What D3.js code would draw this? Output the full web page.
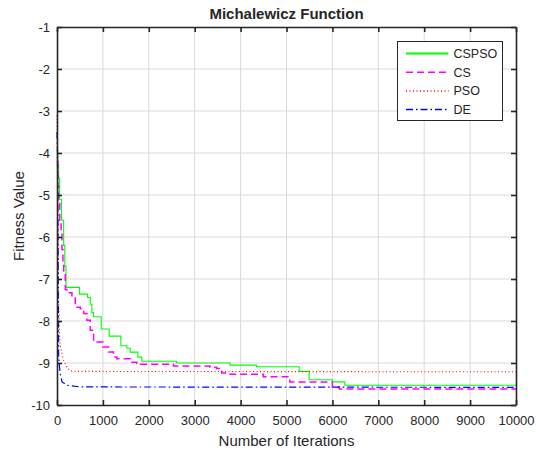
<!DOCTYPE html>
<html>
<head>
<meta charset="utf-8">
<script src="https://cdn.jsdelivr.net/npm/d3@7"></script>
<style>
  body { margin: 0; background: #fff; }
  svg text { font-family: "Liberation Sans", Arial, sans-serif; fill: #262626; }
</style>
</head>
<body>
<div id="chart"></div>
<script>
// convergence curves: iteration, best fitness
var cspsoIter = [0, 15, 36, 58, 100, 145, 170, 196, 492, 666, 725, 760, 797, 964, 1137, 1391, 1522, 1594, 1761, 1848, 2609, 3768, 4348, 5275, 5492, 6000, 6270, 10000];
var cspsoVal  = [-3.9, -4.3, -4.6, -5.1, -5.6, -6.2, -6.7, -7.2, -7.36, -7.44, -7.6, -7.8, -7.9, -8.19, -8.36, -8.59, -8.65, -8.74, -8.86, -8.96, -9.0, -9.05, -9.09, -9.2, -9.4, -9.45, -9.53, -9.53];

var csIter = [0, 20, 36, 60, 90, 109, 130, 145, 181, 217, 326, 398, 507, 580, 652, 725, 797, 1000, 1123, 1232, 1304, 1594, 1739, 1812, 2536, 3333, 3478, 3587, 3768, 4493, 5072, 6000, 6150, 10000];
var csVal  = [-4.2, -4.8, -5.2, -5.6, -5.9, -6.3, -6.6, -6.9, -7.25, -7.33, -7.43, -7.67, -7.71, -7.82, -7.98, -8.22, -8.5, -8.62, -8.74, -8.86, -8.9, -8.98, -9.01, -9.03, -9.07, -9.1, -9.13, -9.24, -9.27, -9.33, -9.45, -9.57, -9.62, -9.62];

var psoIter = [0, 10, 20, 30, 36, 45, 58, 72, 109, 145, 217, 290, 435, 10000];
var psoVal  = [-3.1, -4.5, -5.8, -6.7, -7.4, -7.9, -8.4, -8.6, -8.78, -8.94, -9.1, -9.19, -9.2, -9.21];

var deIter = [0, 10, 20, 30, 36, 55, 72, 109, 217, 507, 10000];
var deVal  = [-3.5, -4.0, -5.5, -7.5, -8.8, -9.1, -9.25, -9.45, -9.53, -9.57, -9.58];

var xTicks = [0, 1000, 2000, 3000, 4000, 5000, 6000, 7000, 8000, 9000, 10000];
var yTicks = [-10, -9, -8, -7, -6, -5, -4, -3, -2, -1];

var W = 536, H = 455;
var mLeft = 57, mRight = 516, mTop = 27, mBottom = 405;

var svg = d3.select("#chart").append("svg")
  .attr("width", W).attr("height", H);

var x = d3.scaleLinear().domain([0, 10000]).range([mLeft, mRight]);
var y = d3.scaleLinear().domain([-10, -1]).range([mBottom, mTop]);

// grid
svg.append("g").selectAll("line")
  .data(xTicks.slice(1, -1)).enter().append("line")
  .attr("x1", d => x(d)).attr("x2", d => x(d))
  .attr("y1", mTop).attr("y2", mBottom)
  .attr("stroke", "#d9d9d9").attr("stroke-width", 1);
svg.append("g").selectAll("line")
  .data(yTicks.slice(1, -1)).enter().append("line")
  .attr("y1", d => y(d)).attr("y2", d => y(d))
  .attr("x1", mLeft).attr("x2", mRight)
  .attr("stroke", "#d9d9d9").attr("stroke-width", 1);

// series
var series = [
  {name: "CSPSO", it: cspsoIter, v: cspsoVal, color: "#00ff00", dash: null, w: 1.1, curve: d3.curveStepAfter},
  {name: "CS", it: csIter, v: csVal, color: "#ff00ff", dash: "7,4", w: 1.5, curve: d3.curveStepAfter},
  {name: "PSO", it: psoIter, v: psoVal, color: "#ff0000", dash: "1,2.5", w: 1.1, curve: d3.curveLinear},
  {name: "DE", it: deIter, v: deVal, color: "#0000ff", dash: "7,3,1.5,3", w: 1.2, curve: d3.curveLinear}
];

var plot = svg.append("g");
series.forEach(function(s) {
  var pts = s.it.map((d, i) => [d, s.v[i]]);
  var line = d3.line().x(d => x(d[0])).y(d => y(d[1])).curve(s.curve);
  plot.append("path")
    .attr("d", line(pts))
    .attr("fill", "none")
    .attr("stroke", s.color)
    .attr("stroke-width", s.w)
    .attr("stroke-dasharray", s.dash);
});

// axes (plain hyphen for negatives, no thousands separator)
var fmt = d => String(d);
var axB = d3.axisBottom(x).tickValues(xTicks).tickSizeInner(-5).tickSizeOuter(0).tickPadding(11).tickFormat(fmt);
var axL = d3.axisLeft(y).tickValues(yTicks).tickSizeInner(-5).tickSizeOuter(0).tickPadding(7).tickFormat(fmt);
var axT = d3.axisTop(x).tickValues(xTicks).tickSizeInner(-5).tickSizeOuter(0).tickFormat("");
var axR = d3.axisRight(y).tickValues(yTicks).tickSizeInner(-5).tickSizeOuter(0).tickFormat("");

function style(g) {
  g.select(".domain").attr("stroke", "#262626").attr("stroke-width", 1.6);
  g.selectAll(".tick line").attr("stroke", "#262626").attr("stroke-width", 1.6);
  g.selectAll(".tick text").attr("font-size", "13px").attr("fill", "#262626")
    .style("font-family", "'Liberation Sans', Arial, sans-serif");
}

svg.append("g").attr("transform", "translate(0," + mBottom + ")").call(axB).call(style);
svg.append("g").attr("transform", "translate(" + mLeft + ",0)").call(axL).call(style);
svg.append("g").attr("transform", "translate(0," + mTop + ")").call(axT).call(style);
svg.append("g").attr("transform", "translate(" + mRight + ",0)").call(axR).call(style);

// title and labels
svg.append("text").attr("x", (mLeft + mRight) / 2).attr("y", 18.5)
  .attr("text-anchor", "middle").attr("font-size", "15px").attr("font-weight", "bold")
  .attr("fill", "#000").text("Michalewicz Function");
svg.append("text").attr("x", (mLeft + mRight) / 2).attr("y", 446)
  .attr("text-anchor", "middle").attr("font-size", "15px").text("Number of Iterations");
svg.append("text")
  .attr("transform", "translate(24," + ((mTop + mBottom) / 2) + ") rotate(-90)")
  .attr("text-anchor", "middle").attr("font-size", "15px").text("Fitness Value");

// legend
var lg = svg.append("g").attr("transform", "translate(397.5,41.5)");
lg.append("rect").attr("width", 105).attr("height", 79)
  .attr("fill", "#fff").attr("stroke", "#262626").attr("stroke-width", 1);
series.forEach(function(s, i) {
  var yy = 12 + i * 18.7;
  lg.append("line").attr("x1", 8.5).attr("x2", 51).attr("y1", yy).attr("y2", yy)
    .attr("stroke", s.color).attr("stroke-width", s.name === "CSPSO" ? 2 : 1.5)
    .attr("stroke-dasharray", s.dash);
  lg.append("text").attr("x", 56).attr("y", yy + 4.5)
    .attr("font-size", "12.5px").attr("fill", "#000").text(s.name);
});
</script>
</body>
</html>
